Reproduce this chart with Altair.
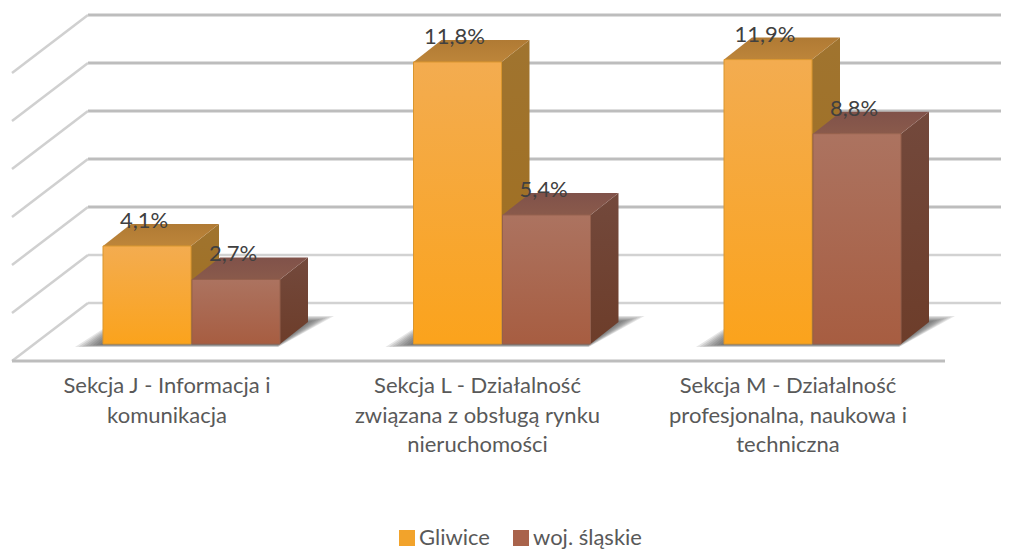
import altair as alt
import pandas as pd

categories = [
    ["Sekcja J - Informacja i", "komunikacja"],
    ["Sekcja L - Działalność", "związana z obsługą rynku", "nieruchomości"],
    ["Sekcja M - Działalność", "profesjonalna, naukowa i", "techniczna"],
]
series_names = ["Gliwice", "woj. śląskie"]
gliwice = [4.1, 11.8, 11.9]
slaskie = [2.7, 5.4, 8.8]
grid_levels = [0, 2, 4, 6, 8, 10, 12]

# layout of the pseudo-3D scene, in page pixels
W, H = 993, 541
K = 23.9           # px per % on the front plane
BACK_K = 24        # px per % on the back wall
BASE = 344         # front base of the bars
BACK_BASE = 303
BW, GAP = 88, 1
START, STEP = 103, 310.5
DX, DY = 28, 22
FONT = "Lato"
FS = 22
LEG_ICONS = [(399, 538), (513, 538)]
LEG_R = 8


def u(py):
    return (BASE - py) / K


def poly(points, pid):
    xs = sorted({p[0] for p in points})
    rows = []
    n = len(points)
    for x in xs:
        ys = []
        for i in range(n):
            (ax, ay), (bx, by) = points[i], points[(i + 1) % n]
            if min(ax, bx) <= x <= max(ax, bx):
                if ax == bx:
                    ys += [ay, by]
                else:
                    ys.append(ay + (by - ay) * (x - ax) / (bx - ax))
        rows.append({"x": x, "y": u(min(ys)), "y2": u(max(ys)), "id": pid})
    return rows


def grad(a, b):
    return alt.Gradient(
        gradient="linear", x1=0, x2=0, y1=0, y2=1,
        stops=[alt.GradientStop(offset=0, color=a), alt.GradientStop(offset=1, color=b)],
    )


X = lambda f: alt.X(f, type="quantitative", axis=None,
                    scale=alt.Scale(domain=[8, 8 + W], range=[0, W], nice=False, zero=False))
Y = lambda f: alt.Y(f, type="quantitative", axis=None,
                    scale=alt.Scale(domain=[u(8 + H), u(8)], range=[H, 0], nice=False, zero=False))

front, side, top, shadow = [], [], [], []
for s, vals in enumerate([gliwice, slaskie]):
    sd, tp, fr = [], [], []
    for i, v in enumerate(vals):
        x0 = START + STEP * i + s * (BW + GAP)
        x1 = x0 + BW
        t = BASE - K * v
        fr.append({"x": x0, "x2": x1, "y": u(t), "y2": 0.0, "series": series_names[s],
                   "label": f"{v:.1f}%".replace(".", ","), "lx": x0 + 41, "ly": u(t - 18)})
        sd += poly([(x1, t), (x1 + DX, t - DY), (x1 + DX, BASE - DY), (x1, BASE)], f"{s}{i}")
        tp += poly([(x0, t), (x0 + DX, t - DY), (x1 + DX, t - DY), (x1, t)], f"{s}{i}")
    front.append(pd.DataFrame(fr))
    side.append(pd.DataFrame(sd))
    top.append(pd.DataFrame(tp))

for i in range(3):
    x0 = START + STEP * i
    x1 = x0 + 2 * BW + GAP
    for lvl in range(8):
        g = lvl * 3.5
        shadow += poly([(x0 - 28 + g, 347 - lvl * 0.3), (x1 - 2, 347 - lvl * 0.3),
                        (x1 + DX + 26 - g, 316 + lvl * 0.8), (x0 + 20, 316 + lvl * 0.8)], f"{i}-{lvl}")

grid = pd.DataFrame([
    {"bx": 88, "bx2": 8 + W, "by": u(BACK_BASE - BACK_K * L),
     "fx": 12, "fy": u(BACK_BASE - BACK_K * L + 58), "lvl": L}
    for L in grid_levels
])
floor = pd.DataFrame([{"x": 12, "x2": 945, "y": u(361)}])

cat_rows = []
for i, lines in enumerate(categories):
    for j, line in enumerate(lines):
        cat_rows.append({"x": 167 + STEP * i, "y": u(393 + 29.5 * j), "t": line})
cats = pd.DataFrame(cat_rows)

layers = []
upper = grid[grid.lvl >= 4]
lower = grid[grid.lvl < 4]
for d, col, sw in [(upper, "#bdbdbd", 3), (lower, "#d2d2d2", 2.5)]:
    layers.append(alt.Chart(d).mark_rule(color=col, strokeWidth=sw).encode(
        x=X("bx"), x2="bx2", y=Y("by")))
layers.append(alt.Chart(grid).mark_rule(color="#d0d0d0", strokeWidth=2.5).encode(
    x=X("fx"), x2="bx", y=Y("fy"), y2="by"))
layers.append(alt.Chart(floor).mark_rule(color="#bdbdbd", strokeWidth=3).encode(
    x=X("x"), x2="x2", y=Y("y")))
layers.append(alt.Chart(pd.DataFrame(shadow)).mark_area(color="#3a3a3a", opacity=0.13).encode(
    x=X("x"), y=Y("y"), y2="y2", detail="id:N"))

styles = [
    dict(side=("#a0742f", "#a06e1e"), top=("#b07a34", "#bd853a"), front=("#f3ac50", "#fba31c"), stroke="#d9962f",
         bevel=["#f7b348", "#c48a3a", "#b5802f", "#ea9a28"]),
    dict(side=("#73493c", "#6d3d2a"), top=("#80524a", "#8a5a4b"), front=("#ac7360", "#a75d41"), stroke="#94604d",
         bevel=["#bb7d68", "#85534a", "#7a4a3a", "#8f5a48"]),
]
scale = alt.Scale(domain=series_names, range=["#f2a32b", "#a9634b"])
for s in range(2):
    st = styles[s]
    layers.append(alt.Chart(side[s]).mark_area(color=grad(*st["side"])).encode(
        x=X("x"), y=Y("y"), y2="y2", detail="id:N"))
    layers.append(alt.Chart(top[s]).mark_area(color=grad(*st["top"])).encode(
        x=X("x"), y=Y("y"), y2="y2", detail="id:N"))
    layers.append(alt.Chart(front[s]).mark_bar().encode(
        x=X("x"), x2="x2", y=Y("y"), y2="y2",
        color=alt.Color("series:N", scale=scale, legend=alt.Legend(
            title=None, orient="none", legendX=388, legendY=519, direction="horizontal", zindex=0,
            symbolType="square", symbolSize=256, symbolStrokeWidth=0, labelFont=FONT, labelFontSize=FS,
            labelColor="#595959", columnPadding=20, labelOffset=1, labelLimit=200))))
    layers.append(alt.Chart(front[s]).mark_bar(color=grad(*st["front"]), stroke=st["stroke"], strokeWidth=1).encode(
        x=X("x"), x2="x2", y=Y("y"), y2="y2"))
    # bevelled legend keys, laid over the legend's own square symbols
    ix, iy = LEG_ICONS[s]
    a, b, c, d = (ix, iy - LEG_R), (ix + 2 * LEG_R, iy - LEG_R), (ix + 2 * LEG_R, iy + LEG_R), (ix, iy + LEG_R)
    m = (ix + LEG_R, iy)
    for tri, col in zip([(a, b, m), (a, m, d), (b, c, m), (d, m, c)], st["bevel"]):
        layers.append(alt.Chart(pd.DataFrame(poly(list(tri), "k"))).mark_area(color=col).encode(
            x=X("x"), y=Y("y"), y2="y2"))

for s in range(2):
    layers.append(alt.Chart(front[s]).mark_text(font=FONT, fontSize=FS, color="#404040", align="center",
                                                baseline="alphabetic").encode(
        x=X("lx"), y=Y("ly"), text="label:N"))
layers.append(alt.Chart(cats).mark_text(font=FONT, fontSize=FS, color="#595959", align="center",
                                        baseline="alphabetic").encode(
    x=X("x"), y=Y("y"), text="t:N"))

chart = alt.layer(*layers).properties(
    width=W, height=H, padding=0, autosize=alt.AutoSizeParams(type="none")
).resolve_scale(color="shared").configure_view(stroke=None)

chart.save("out.html", embed_options={"renderer": "svg", "actions": False})
